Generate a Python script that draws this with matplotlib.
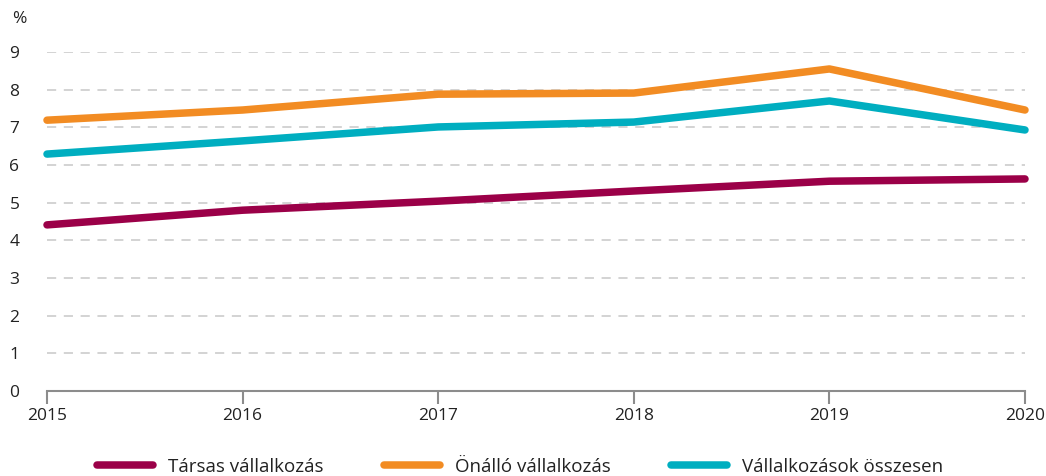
import matplotlib.pyplot as plt
from matplotlib.ticker import MultipleLocator

plt.rcParams['font.family'] = ['Open Sans', 'DejaVu Sans']

years = [2015, 2016, 2017, 2018, 2019, 2020]
tarsas = [4.41, 4.80, 5.04, 5.31, 5.57, 5.63]
onallo = [7.19, 7.46, 7.88, 7.91, 8.55, 7.46]
osszesen = [6.29, 6.64, 7.01, 7.14, 7.70, 6.93]

series = [
    ('Társas vállalkozás', tarsas, '#9B0048'),
    ('Önálló vállalkozás', onallo, '#F28C23'),
    ('Vállalkozások összesen', osszesen, '#00AEC0'),
]

fig = plt.figure(figsize=(10.46, 4.76), dpi=100)
ax = fig.add_axes([47 / 1046, 1 - 391 / 476, (1025 - 47) / 1046, (391 - 52) / 476])

for label, vals, color in series:
    ax.plot(years, vals, color=color, linewidth=5.4, solid_capstyle='round',
            solid_joinstyle='round', label=label, clip_on=False)

ax.set_xlim(2015, 2020)
ax.set_ylim(0, 9)
ax.yaxis.set_major_locator(MultipleLocator(1))
ax.set_xticks(years)

for y in range(1, 10):
    ax.axhline(y, color='#c8c8c8', linewidth=1.1, dashes=(6, 5), zorder=0)

for side in ['top', 'right', 'left']:
    ax.spines[side].set_visible(False)
ax.spines['bottom'].set_color('#8c8c8c')
ax.spines['bottom'].set_linewidth(1.5)

ax.tick_params(axis='x', length=9, width=1.5, color='#8c8c8c', labelsize=12.5,
               labelcolor='#222222', pad=3)
ax.tick_params(axis='y', length=0, labelsize=12.5, labelcolor='#222222', pad=27)
for lbl in ax.get_yticklabels():
    lbl.set_horizontalalignment('left')

fig.text(12 / 1046, 1 - 19 / 476, '%', fontsize=12.5, color='#222222', va='center')

fig.legend(loc='center', bbox_to_anchor=(0.497, 1 - 467 / 476), ncol=3, frameon=False,
           fontsize=13.5, handlelength=3.0, columnspacing=3.2, handletextpad=0.8,
           labelcolor='#222222')

fig.savefig('out.png', dpi=100)
